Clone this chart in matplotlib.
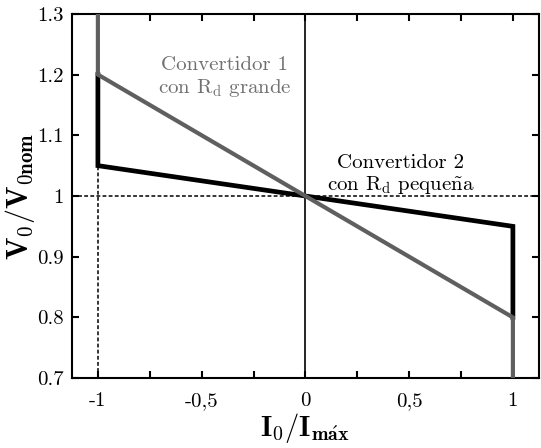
import numpy as np
import matplotlib
matplotlib.use("Agg")
import matplotlib.pyplot as plt

# -----------------------------
# DATA
# -----------------------------
# Convertidor 2 (R_d pequeña) - black
conv2_x = [-1, -1, 0, 1, 1]
conv2_y = [1.2, 1.05, 1.0, 0.95, 0.8]

# Convertidor 1 (R_d grande) - grey
conv1_x = [-1, -1, 0, 1, 1]
conv1_y = [1.3, 1.2, 1.0, 0.8, 0.7]

x_ticks = [-1, -0.75, -0.5, -0.25, 0, 0.25, 0.5, 0.75, 1]
x_ticklabels = ["-1", "", "-0,5", "", "0", "", "0,5", "", "1"]
y_ticks = [0.7, 0.8, 0.9, 1.0, 1.1, 1.2, 1.3]
y_ticklabels = ["0.7", "0.8", "0.9", "1", "1.1", "1.2", "1.3"]

# -----------------------------
# STYLE
# -----------------------------
plt.rcParams.update({
    "font.family": ["cmr10", "DejaVu Serif"],
    "mathtext.fontset": "cm",
    "axes.unicode_minus": False,
    "axes.linewidth": 1.5,
})

fig = plt.figure(figsize=(5.41, 4.48), dpi=100)
ax = fig.add_axes([0.133, 0.156, 0.863, 0.813])

# reference lines
ax.axvline(0, color="black", lw=1.2, zorder=1)
ax.axhline(1.0, color="black", lw=1.1, ls=(0, (2.5, 1.5)), zorder=1)
ax.plot([-1, -1], [0.7, 1.05], color="black", lw=1.1, ls=(0, (2.5, 1.5)), zorder=1)

ax.plot(conv2_x, conv2_y, color="black", lw=3.4, solid_joinstyle="miter", zorder=2)
ax.plot(conv1_x, conv1_y, color="#5f5f5f", lw=3.0, solid_joinstyle="miter", zorder=3)

ax.text(-0.39, 1.195, "Convertidor 1\ncon $\\mathrm{R_d}$ grande", color="#707070",
        fontsize=15, ha="center", va="center", linespacing=1.15)
ax.text(0.46, 1.035, "Convertidor 2\ncon $\\mathrm{R_d}$ peque$\\tilde{\\mathrm{n}}$a",
        color="black", fontsize=15, ha="center", va="center", linespacing=1.15)

ax.set_xlim(-1.125, 1.125)
ax.set_ylim(0.7, 1.3)
ax.set_xticks(x_ticks)
ax.set_xticklabels(x_ticklabels)
ax.set_yticks(y_ticks)
ax.set_yticklabels(y_ticklabels)
ax.tick_params(direction="in", length=5, width=1.5, top=True, right=True,
               labelsize=15)
ax.tick_params(axis="x", pad=10)
ax.tick_params(axis="y", pad=6)

ax.set_xlabel(r"$\mathbf{I_0/I_{m\acute{a}x}}$", fontsize=20.5, labelpad=1)
ax.set_ylabel(r"$\mathbf{V_0/V_{0nom}}$", fontsize=21.5, labelpad=0)

fig.savefig("out.png", dpi=100)
